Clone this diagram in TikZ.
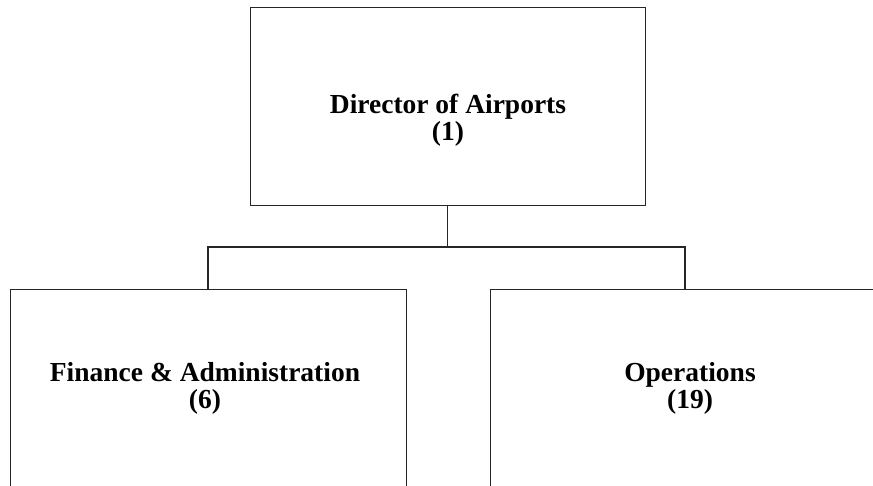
\documentclass[tikz,border=0pt]{standalone}
\usepackage{fontspec}
\setmainfont{Liberation Serif}
\begin{document}
\begin{tikzpicture}[x=1pt,y=-1pt,
  box/.style={draw=black!85,line width=1pt,inner sep=0pt,fill=none},
  lbl/.style={anchor=base,inner sep=0pt,font=\bfseries\fontsize{27.5}{31}\selectfont},
  conn/.style={draw=black!85,line width=1.2pt}]
\path[use as bounding box,clip] (0,0) rectangle (873,485);
\node[box,minimum width=395pt,minimum height=198pt] (top) at (447.5,106) {};
\node[box,minimum width=396pt,minimum height=211pt] (left) at (208,394.5) {};
\node[box,minimum width=390pt,minimum height=211pt] (right) at (685,394.5) {};
\coordinate (bus) at (447.5,247);
\draw[conn] (top.south) -- (bus);
\draw[conn] (left.north) |- (bus) -| (right.north);
\node[lbl] (toptext) at (448,113) {Director of Airports};
\node[lbl] (topnum) at (448,140) {(1)};
\node[lbl] (lefttext) at (205,381) {Finance \& Administration};
\node[lbl] (leftnum) at (205,408) {(6)};
\node[lbl] (righttext) at (690,381) {Operations};
\node[lbl] (rightnum) at (690,408) {(19)};
\end{tikzpicture}
\end{document}
